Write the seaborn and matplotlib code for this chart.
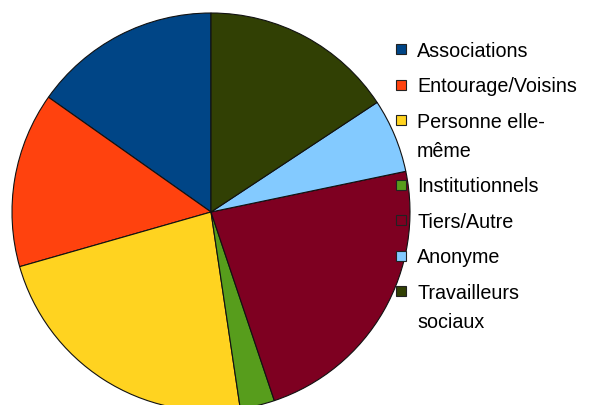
import matplotlib
matplotlib.use("Agg")
import matplotlib.pyplot as plt
from matplotlib.patches import Rectangle
import seaborn as sns

# Data
categories = ["Associations", "Entourage/Voisins", "Personne elle-\nmême", "Institutionnels",
              "Tiers/Autre", "Anonyme", "Travailleurs\nsociaux"]
values = [15.2, 14.2, 22.9, 2.8, 23.1, 6.0, 15.7]
colors = ["#004586", "#ff420e", "#ffd320", "#579d1c", "#7e0021", "#83caff", "#314004"]

sns.set_style("white")
plt.rcParams['font.family'] = ['Liberation Sans', 'DejaVu Sans']

W, H = 591, 406
fig = plt.figure(figsize=(W / 100, H / 100), dpi=100)
fig.patch.set_facecolor("white")

cx, cy, r = 211, 213, 199
ax = fig.add_axes([(cx - r) / W, (H - cy - r) / H, 2 * r / W, 2 * r / H])
palette = sns.color_palette(colors)
wedges, _ = ax.pie(values, colors=palette, startangle=90, counterclock=True,
                   radius=1, wedgeprops=dict(edgecolor="#111111", linewidth=0.8))
ax.set_xlim(-1.0, 1.0)
ax.set_ylim(-1.0, 1.0)
ax.set_aspect("auto")
ax.axis("off")
for w in wedges:
    w.set_clip_on(False)

# Legend (manual, LibreOffice style)
y = 50.0
entry_gap, line_gap = 35.5, 29.0
for lab, col in zip(categories, palette):
    lines = lab.split("\n")
    fig.add_artist(Rectangle(((396) / W, 1 - (y + 5) / H), 10 / W, 10 / H,
                             transform=fig.transFigure, facecolor=col,
                             edgecolor="#222222", linewidth=0.8))
    for k, ln in enumerate(lines):
        yy = y + k * line_gap
        fig.text(417 / W, 1 - (yy + 7) / H, ln, fontsize=14.2, va="baseline",
                 ha="left", color="black")
    y += entry_gap + (len(lines) - 1) * line_gap

fig.savefig("out.png", dpi=100, facecolor="white")
